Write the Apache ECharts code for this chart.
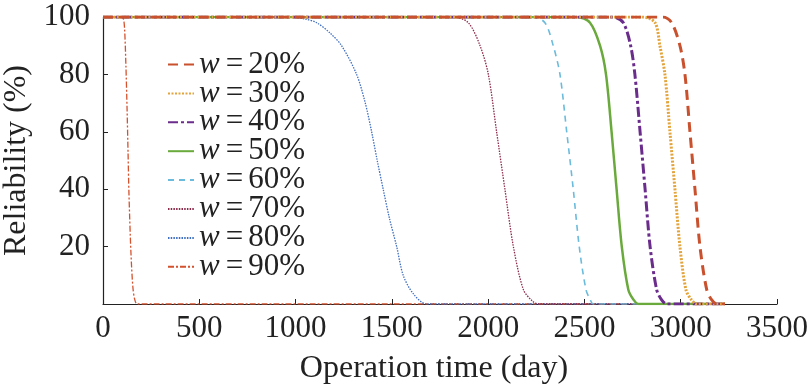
<!DOCTYPE html>
<html>
<head>
<meta charset="utf-8">
<script src="https://cdn.jsdelivr.net/npm/echarts@6/dist/echarts.min.js"></script>
<style>html,body{margin:0;padding:0;background:#fff}#c{width:810px;height:388px}</style>
</head>
<body>
<div id="c"></div>
<script>
const seriesNames = ['w=20%','w=30%','w=40%','w=50%','w=60%','w=70%','w=80%','w=90%'];
const xTicks = [0,500,1000,1500,2000,2500,3000,3500];
const yTicks = [20,40,60,80,100];

const days20 = [0, 2908, 2953, 2996, 3022, 3048, 3074, 3100, 3135, 3160, 3187, 3230];
const rel20  = [100, 100, 98, 90, 80, 60, 40, 20, 5, 1.5, 0, 0];
const days30 = [0, 2806, 2867, 2892, 2918, 2944, 2970, 2996, 3027, 3055, 3083, 3230];
const rel30  = [100, 100, 98, 90, 80, 60, 40, 20, 5, 1.5, 0, 0];
const days40 = [0, 2650, 2702, 2740, 2762, 2789, 2815, 2841, 2875, 2900, 2927, 3230];
const rel40  = [100, 100, 98, 90, 80, 60, 40, 20, 5, 1.5, 0, 0];
const days50 = [0, 2460, 2529, 2581, 2612, 2641, 2667, 2694, 2728, 2755, 2780, 3230];
const rel50  = [100, 100, 98, 90, 80, 60, 40, 20, 5, 1.5, 0, 0];
const days60 = [0, 2233, 2295, 2338, 2373, 2408, 2442, 2473, 2508, 2530, 2546, 3230];
const rel60  = [100, 100, 98, 90, 80, 60, 40, 20, 5, 1.5, 0, 0];
const days70 = [0, 1819, 1897, 1958, 2001, 2044, 2087, 2131, 2183, 2230, 2261, 3230];
const rel70  = [100, 100, 98, 90, 80, 60, 40, 20, 5, 1, 0, 0];
const days80 = [0, 970, 1050, 1110, 1179, 1239, 1317, 1362, 1395, 1424, 1455, 1487, 1525, 1559, 1611, 1681, 3230];
const rel80  = [100, 100, 99.3, 98, 94.4, 90, 80, 70, 60, 50, 40, 30, 20, 10, 3.6, 0, 0];
const days90 = [0, 90, 105, 112, 119, 125, 130, 135, 145, 155, 165, 178, 3230];
const rel90  = [100, 100, 99.5, 96, 83, 68, 53, 38, 18, 6, 1.5, 0, 0];

const allDays = [days20, days30, days40, days50, days60, days70, days80, days90];
const allRel = [rel20, rel30, rel40, rel50, rel60, rel70, rel80, rel90];

const styles = [
  {color:'#c9512e', width:3, type:[10,6]},
  {color:'#e3a43c', width:3, type:[2,1.5]},
  {color:'#6b2d8c', width:3, type:[10,3,3,3]},
  {color:'#6aaa3c', width:2.5, type:'solid'},
  {color:'#6bbbdc', width:1.6, type:[6,5]},
  {color:'#8c2a4a', width:1.3, type:[1.5,1.2]},
  {color:'#3f6fbf', width:1.3, type:[1.5,1.2]},
  {color:'#d4522e', width:1.3, type:[6,2,2,2]}
];

const font = '"Liberation Serif", "Times New Roman", serif';

const series = seriesNames.map((n, i) => ({
  name: n,
  type: 'line',
  data: allDays[i].map((d, k) => [d, allRel[i][k]]),
  showSymbol: false,
  symbol: 'none',
  smooth: 0.3,
  lineStyle: {color: styles[i].color, width: styles[i].width, type: styles[i].type},
  itemStyle: {color: styles[i].color},
  z: 10 - i
}));

const chart = echarts.init(document.getElementById('c'), null, {renderer: 'canvas'});
chart.setOption({
  animation: false,
  backgroundColor: '#fff',
  grid: {left: 103, right: 33, top: 17, bottom: 84, containLabel: false, outerBoundsMode: 'none'},
  legend: {
    orient: 'vertical',
    left: 167,
    top: 49,
    padding: 0,
    itemWidth: 26,
    itemHeight: 14,
    itemGap: -2.1,
    data: seriesNames,
    itemStyle: {opacity: 0},
    formatter: name => '{i|w}{e|=}{n|' + name.slice(2) + '}',
    textStyle: {
      fontFamily: font, fontSize: 31, color: '#222', lineHeight: 27,
      rich: {
        i: {fontFamily: font, fontStyle: 'italic', fontSize: 31, color: '#222', lineHeight: 27, padding: [0, 2, 0, 0]},
        e: {fontFamily: font, fontSize: 31, color: '#222', lineHeight: 27, padding: [0, 5, 0, 4]},
        n: {fontFamily: font, fontSize: 31, color: '#222', lineHeight: 27}
      }
    }
  },
  xAxis: {
    type: 'value', min: 0, max: 3500, interval: 500,
    name: 'Operation time (day)', nameLocation: 'middle', nameGap: 49,
    nameTextStyle: {fontFamily: font, fontSize: 32, color: '#222', padding: [0, 12, 0, 0]},
    axisLine: {lineStyle: {color: '#222', width: 1.2}},
    axisTick: {inside: true, length: 5, lineStyle: {color: '#222'}},
    axisLabel: {fontFamily: font, fontSize: 31, color: '#222', margin: 9,
      formatter: v => String(v)},
    splitLine: {show: false}
  },
  yAxis: {
    type: 'value', min: 0, max: 100, interval: 20,
    name: 'Reliability (%)', nameLocation: 'middle', nameGap: 61,
    nameTextStyle: {fontFamily: font, fontSize: 32, color: '#222'},
    axisLine: {show: true, lineStyle: {color: '#222', width: 1.2}},
    axisTick: {inside: true, length: 5, lineStyle: {color: '#222'}},
    axisLabel: {fontFamily: font, fontSize: 31, color: '#222', margin: 13,
      formatter: v => (yTicks.indexOf(v) >= 0 ? String(v) : '')},
    splitLine: {show: false}
  },
  series: series
});
</script>
</body>
</html>
